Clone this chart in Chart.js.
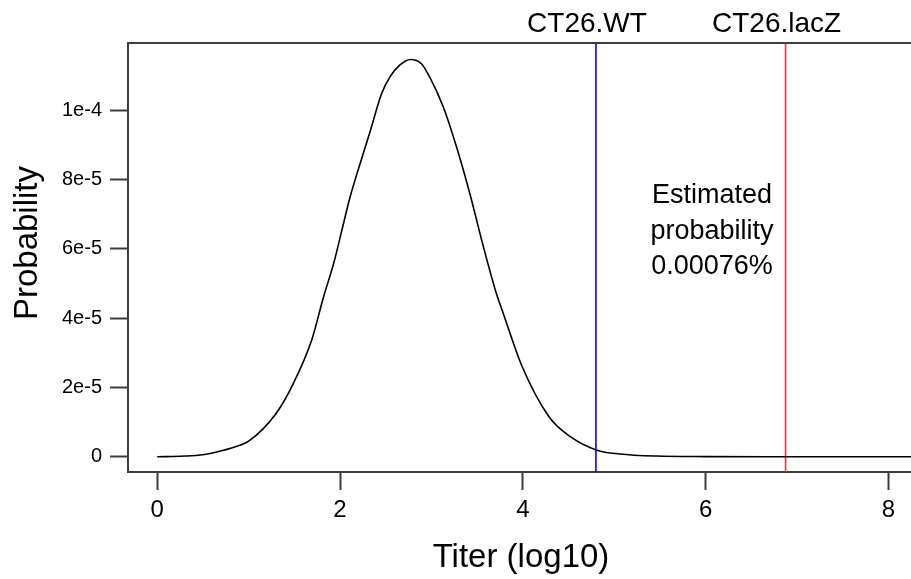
<!DOCTYPE html>
<html>
<head>
<meta charset="utf-8">
<script src="https://cdn.jsdelivr.net/npm/chart.js@4.4.1/dist/chart.umd.min.js"></script>
<style>
  html, body { margin: 0; padding: 0; background: #ffffff; overflow: hidden; }
  #wrap { width: 920px; height: 579px; }
</style>
</head>
<body>
<div id="wrap"><canvas id="c" width="920" height="579"></canvas></div>
<script>
// ---- data ----
const titerX = [0.0, 0.3, 0.5, 0.65, 0.83, 1.0, 1.3, 1.49, 1.69, 1.82, 1.93, 2.02, 2.11, 2.22, 2.33, 2.455, 2.546, 2.65, 2.77, 2.89, 2.98, 3.13, 3.28, 3.42, 3.57, 3.71, 3.786, 3.99, 4.29, 4.52, 4.81, 5.06, 5.46, 6.0, 7.0, 8.3];
const probY  = [0, 0.02e-5, 0.06e-5, 0.14e-5, 0.27e-5, 0.45e-5, 1.25e-5, 2.12e-5, 3.37e-5, 4.62e-5, 5.58e-5, 6.54e-5, 7.5e-5, 8.47e-5, 9.4e-5, 10.49e-5, 10.97e-5, 11.3e-5, 11.47e-5, 11.35e-5, 10.97e-5, 10.1e-5, 8.9e-5, 7.6e-5, 6.05e-5, 4.72e-5, 4.14e-5, 2.62e-5, 1.14e-5, 0.58e-5, 0.19e-5, 0.08e-5, 0.02e-5, 0.005e-5, 0, 0];
const markerNames  = ['CT26.WT', 'CT26.lacZ'];
const markerTiters = [4.80, 6.875];
const markerColors = ['#0000ff', '#ff3333'];
const xTickValues = [0, 2, 4, 6, 8];
const xTickLabels = ['0', '2', '4', '6', '8'];
const yTickValues = [0, 2e-5, 4e-5, 6e-5, 8e-5, 1e-4];
const yTickLabels = ['0', '2e-5', '4e-5', '6e-5', '8e-5', '1e-4'];
const annotationLines = ['Estimated', 'probability', '0.00076%'];
const annotationTiter = 6.07;
const xTitle = 'Titer (log10)';
const yTitle = 'Probability';

const FONT = '"Liberation Sans", Arial, Helvetica, sans-serif';
const AXIS = '#3c3c3c';

const curve = titerX.map((x, i) => ({ x: x, y: probY[i] }));
const markerSets = markerTiters.map((t, i) => ({
  label: markerNames[i],
  data: [{ x: t, y: -1e-4 }, { x: t, y: 2e-4 }],
  borderColor: markerColors[i],
  borderWidth: 1.6,
  pointRadius: 0,
  fill: false
}));

const decor = {
  id: 'decor',
  afterDatasetsDraw(chart) {
    const ctx = chart.ctx;
    const a = chart.chartArea;
    const xs = chart.scales.x;
    ctx.save();
    // top and right frame lines
    ctx.strokeStyle = AXIS;
    ctx.lineWidth = 2;
    ctx.beginPath();
    ctx.moveTo(a.left - 1, a.top);
    ctx.lineTo(a.right + 1, a.top);
    ctx.moveTo(a.right, a.top);
    ctx.lineTo(a.right, a.bottom);
    ctx.stroke();

    ctx.fillStyle = '#000';
    // marker labels above plot
    ctx.font = '28px ' + FONT;
    ctx.textAlign = 'center';
    ctx.textBaseline = 'alphabetic';
    markerTiters.forEach((t, i) => {
      ctx.fillText(markerNames[i], xs.getPixelForValue(t) - 9, 32);
    });
    // annotation
    ctx.font = '27px ' + FONT;
    const ax = xs.getPixelForValue(annotationTiter);
    annotationLines.forEach((s, i) => {
      ctx.fillText(s, ax, 203 + i * 35.5);
    });
    // x title
    ctx.font = '33px ' + FONT;
    ctx.fillText(xTitle, (a.left + a.right) / 2, 567);
    // y title
    ctx.translate(37, 243);
    ctx.rotate(-Math.PI / 2);
    ctx.fillText(yTitle, 0, 0);
    ctx.restore();
  }
};

new Chart(document.getElementById('c'), {
  type: 'line',
  data: {
    datasets: [
      {
        label: 'Probability',
        data: curve,
        borderColor: '#000000',
        borderWidth: 1.6,
        pointRadius: 0,
        cubicInterpolationMode: 'monotone',
        fill: false
      },
      ...markerSets
    ]
  },
  options: {
    responsive: false,
    devicePixelRatio: 1,
    animation: false,
    layout: { padding: { top: 43, right: 6, left: 0, bottom: 0 } },
    plugins: { legend: { display: false }, tooltip: { enabled: false } },
    scales: {
      x: {
        type: 'linear',
        min: -0.32,
        max: 8.28,
        afterFit(s) { s.height = 107; },
        afterBuildTicks(s) { s.ticks = xTickValues.map(v => ({ value: v })); },
        border: { display: true, color: AXIS, width: 2 },
        grid: { display: true, drawOnChartArea: false, tickLength: 18, tickColor: AXIS, tickWidth: 2 },
        ticks: {
          color: '#000',
          font: { family: FONT, size: 24 },
          padding: 6,
          maxRotation: 0,
          callback(v) { const i = xTickValues.indexOf(v); return i >= 0 ? xTickLabels[i] : ''; }
        }
      },
      y: {
        type: 'linear',
        min: -4.4e-6,
        max: 1.1948e-4,
        afterFit(s) { s.width = 128; },
        afterBuildTicks(s) { s.ticks = yTickValues.map(v => ({ value: v })); },
        border: { display: true, color: AXIS, width: 2 },
        grid: { display: true, drawOnChartArea: false, tickLength: 18, tickColor: AXIS, tickWidth: 2 },
        ticks: {
          color: '#000',
          font: { family: FONT, size: 20 },
          padding: 8,
          callback(v) { const i = yTickValues.indexOf(v); return i >= 0 ? yTickLabels[i] : ''; }
        }
      }
    }
  },
  plugins: [decor]
});
</script>
</body>
</html>
